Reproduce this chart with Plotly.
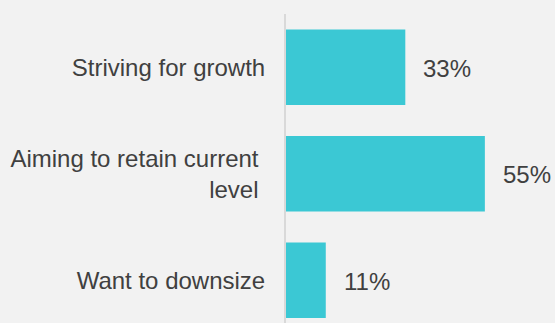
import plotly.graph_objects as go

categories = ["Striving for growth", "Aiming to retain current\u00a0<br>level\u00a0", "Want to downsize"]
values = [33, 55, 11]
value_labels = ["33%", "55%", "11%"]

bar_color = "#3bc8d4"
text_color = "#404040"
bg = "#f2f2f2"
font_family = "Liberation Sans, Arial, sans-serif"

fig = go.Figure()
fig.add_trace(go.Bar(
    x=values, y=categories, orientation="h",
    marker=dict(color=bar_color, line=dict(width=0)),
    width=0.71, hoverinfo="skip",
))

for cat, v, lab in zip(categories, values, value_labels):
    fig.add_annotation(x=v, y=cat, text=lab, showarrow=False,
                       xanchor="left", yanchor="middle", xshift=16, yshift=-1,
                       font=dict(family=font_family, size=24, color=text_color))

fig.update_layout(
    width=555, height=323,
    margin=dict(l=286, r=0, t=14, b=0),
    paper_bgcolor=bg, plot_bgcolor=bg,
    showlegend=False,
    font=dict(family=font_family, size=24, color=text_color),
    xaxis=dict(range=[0, 74.4], showgrid=False, zeroline=False, showticklabels=False,
               ticks="", fixedrange=True),
    yaxis=dict(categoryorder="array", categoryarray=categories,
               range=[2.401, -0.5], showgrid=False, zeroline=False,
               showline=True, linecolor="#d9d9d9", linewidth=2, ticks="",
               ticklabelstandoff=14,
               tickfont=dict(family=font_family, size=24, color=text_color)),
)

fig.write_html("out.html")
